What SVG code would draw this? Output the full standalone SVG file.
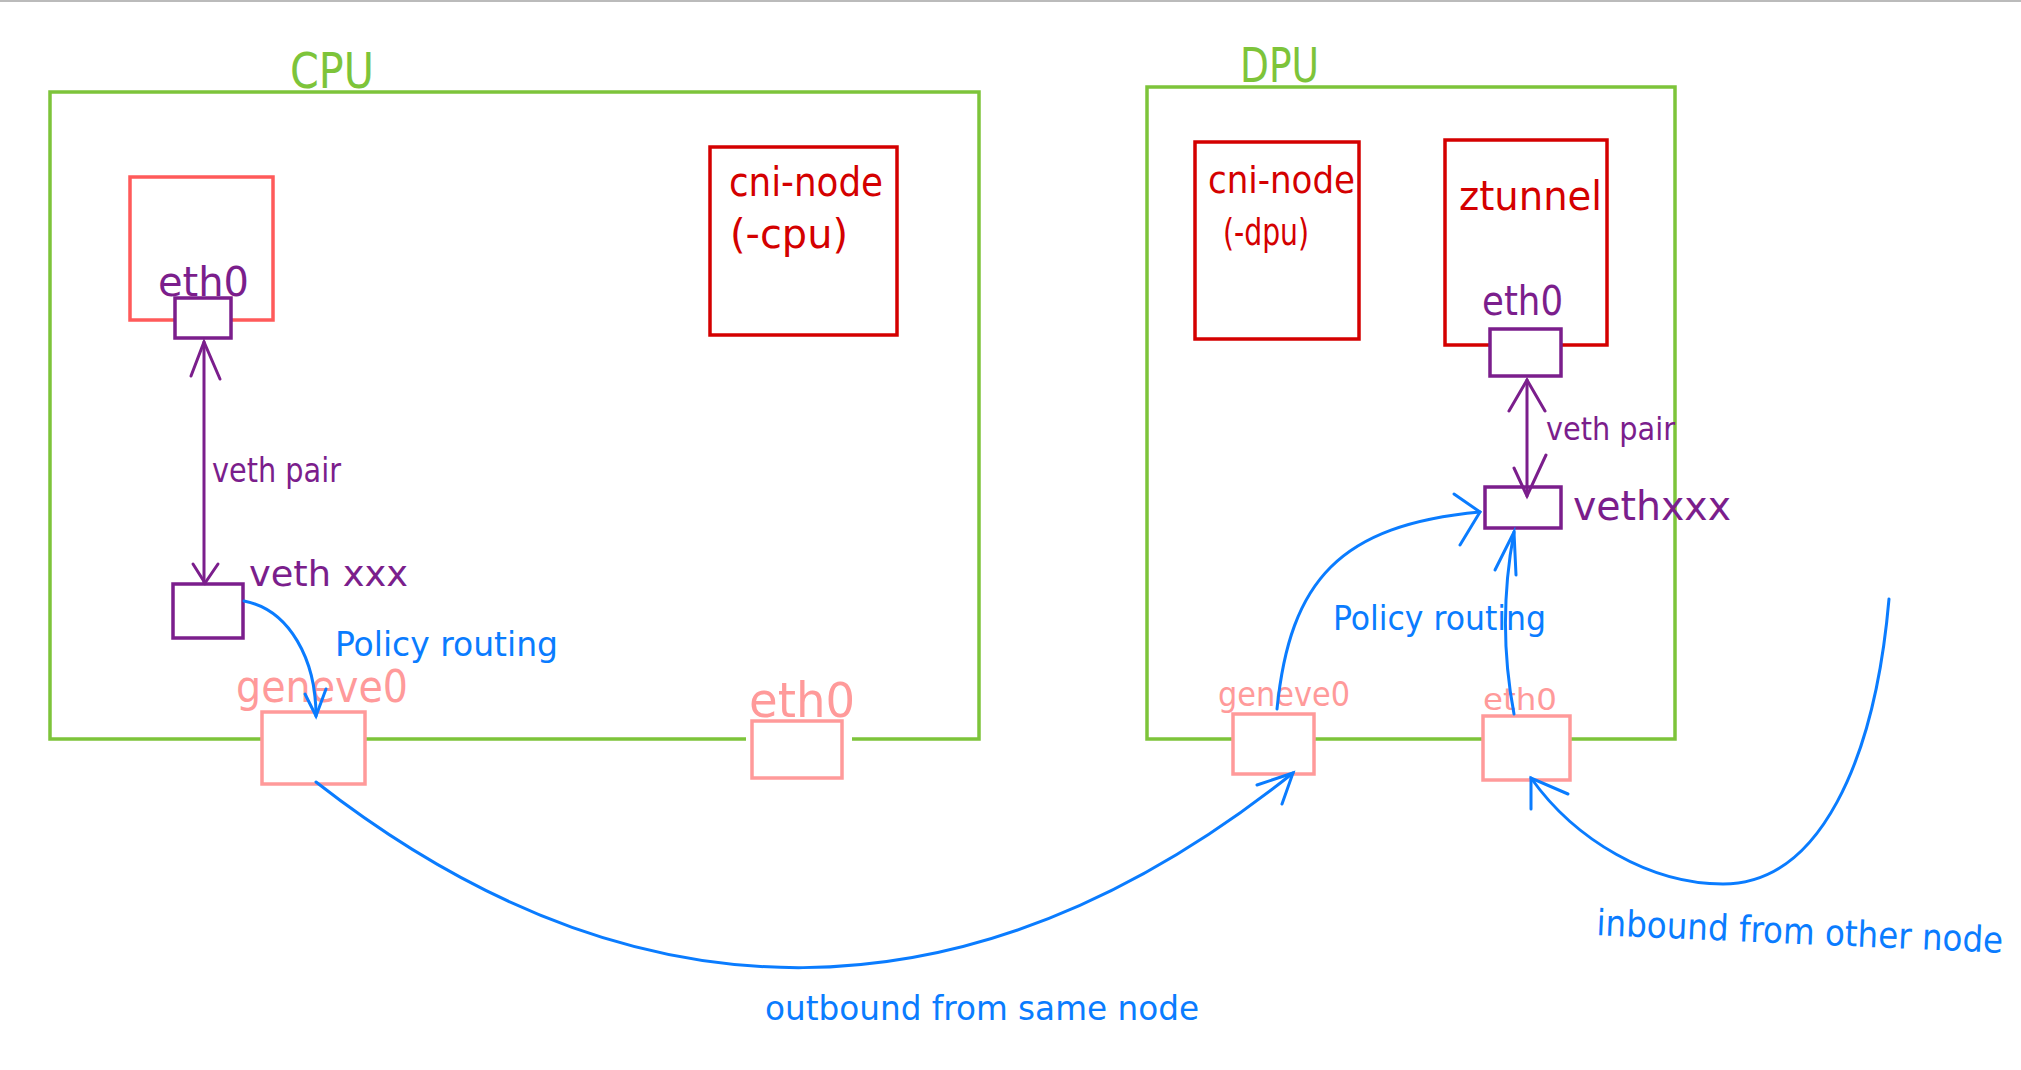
<svg xmlns="http://www.w3.org/2000/svg" width="2021" height="1070" viewBox="0 0 2021 1070">
<defs>
<style>
text{font-family:"DejaVu Sans Condensed","Liberation Sans",sans-serif;}
.green{fill:none;stroke:#7dc43a;stroke-width:3.5}
.dred{fill:#fff;stroke:#d40000;stroke-width:3.5}
.lred{fill:#fff;stroke:#ff5a5a;stroke-width:3.5}
.purp{fill:#fff;stroke:#7b1e8c;stroke-width:3.5}
.pink{fill:#fff;stroke:#ff9a9a;stroke-width:3.5}
.tg{fill:#7dc43a}
.tr{fill:#d40000}
.tp{fill:#7b1e8c}
.tk{fill:#ff9a9a}
.tb{fill:#0a7cff}
.pl{fill:none;stroke:#7b1e8c;stroke-width:3;stroke-linecap:round}
.bl{fill:none;stroke:#0a7cff;stroke-width:3;stroke-linecap:round}
</style>
</defs>
<rect x="0" y="0" width="2021" height="1070" fill="#fff"/>
<line x1="0" y1="1" x2="2021" y2="1" stroke="#bbb" stroke-width="2"/>

<g id="cpu">
<rect class="green" x="50" y="92" width="929" height="647"/>
<text class="tg" x="290" y="88" font-size="50" textLength="84" lengthAdjust="spacingAndGlyphs">CPU</text>
</g>
<g id="dpu">
<rect class="green" x="1147" y="87" width="528" height="652"/>
<text class="tg" x="1240" y="82" font-size="48" textLength="79" lengthAdjust="spacingAndGlyphs">DPU</text>
</g>

<g id="cpu-pod">
<rect class="lred" x="130" y="177" width="143" height="143"/>
<text class="tp" x="158" y="296" font-size="40" textLength="91" lengthAdjust="spacingAndGlyphs">eth0</text>
</g>
<g id="cpu-pod-eth0">
<rect class="purp" x="175" y="298" width="56" height="40"/>
</g>
<g id="cpu-cni-node">
<rect class="dred" x="710" y="147" width="187" height="188"/>
<text class="tr" x="729" y="196" font-size="40" textLength="154" lengthAdjust="spacingAndGlyphs">cni-node</text>
<text class="tr" x="730" y="248" font-size="40" textLength="118" lengthAdjust="spacingAndGlyphs">(-cpu)</text>
</g>
<g id="cpu-vethxxx">
<rect class="purp" x="173" y="584" width="70" height="54"/>
<text class="tp" x="249" y="586" font-size="36" textLength="159" lengthAdjust="spacingAndGlyphs">veth xxx</text>
</g>
<g id="cpu-geneve0">
<rect class="pink" x="262" y="712" width="103" height="72"/>
<text class="tk" x="236" y="702" font-size="44" textLength="172" lengthAdjust="spacingAndGlyphs">geneve0</text>
</g>
<g id="cpu-eth0">
<rect x="746" y="735" width="106" height="8" fill="#fff"/>
<rect class="pink" x="752" y="721" width="90" height="57"/>
<text class="tk" x="749" y="717" font-size="48" textLength="106" lengthAdjust="spacingAndGlyphs">eth0</text>
</g>

<g id="dpu-cni-node">
<rect class="dred" x="1195" y="142" width="164" height="197"/>
<text class="tr" x="1208" y="193" font-size="38" textLength="147" lengthAdjust="spacingAndGlyphs">cni-node</text>
<text class="tr" x="1223" y="245" font-size="38" textLength="86" lengthAdjust="spacingAndGlyphs">(-dpu)</text>
</g>
<g id="ztunnel">
<rect class="dred" x="1445" y="140" width="162" height="205"/>
<text class="tr" x="1459" y="210" font-size="40" textLength="143" lengthAdjust="spacingAndGlyphs">ztunnel</text>
<text class="tp" x="1482" y="315" font-size="40" textLength="81" lengthAdjust="spacingAndGlyphs">eth0</text>
</g>
<g id="ztunnel-eth0">
<rect class="purp" x="1490" y="329" width="71" height="47"/>
</g>
<g id="dpu-vethxxx">
<rect class="purp" x="1485" y="487" width="76" height="41"/>
<text class="tp" x="1573" y="520" font-size="40" textLength="158" lengthAdjust="spacingAndGlyphs">vethxxx</text>
</g>
<g id="dpu-geneve0">
<rect class="pink" x="1233" y="714" width="81" height="60"/>
<text class="tk" x="1218" y="706" font-size="34" textLength="132" lengthAdjust="spacingAndGlyphs">geneve0</text>
</g>
<g id="dpu-eth0">
<rect class="pink" x="1483" y="716" width="87" height="64"/>
<text class="tk" x="1483" y="710" font-size="30" textLength="74" lengthAdjust="spacingAndGlyphs">eth0</text>
</g>

<g id="connectors">
<line class="pl" x1="204" y1="342" x2="204" y2="583"/>
<polyline class="pl" points="191,376 204,342 220,379"/>
<polyline class="pl" points="193,564 205,583 218,564"/>
<text class="tp" x="212" y="482" font-size="34" textLength="129" lengthAdjust="spacingAndGlyphs">veth pair</text>

<line class="pl" x1="1527" y1="380" x2="1527" y2="496"/>
<polyline class="pl" points="1509,411 1527,380 1545,411"/>
<polyline class="pl" points="1514,468 1527,496 1546,455"/>
<text class="tp" x="1546" y="440" font-size="32" textLength="129" lengthAdjust="spacingAndGlyphs">veth pair</text>

<path class="bl" d="M244,601 C290,610 316,660 316,716"/>
<polyline class="bl" points="305,694 316,716 326,689"/>
<text class="tb" x="335" y="656" font-size="34" textLength="223" lengthAdjust="spacingAndGlyphs">Policy routing</text>

<path class="bl" d="M316,782 C635,1031 970,1031 1293,773"/>
<polyline class="bl" points="1257,785 1293,773 1282,804"/>
<text class="tb" x="765" y="1020" font-size="34" textLength="434" lengthAdjust="spacingAndGlyphs">outbound from same node</text>

<path class="bl" d="M1277,709 C1290,580 1340,525 1480,512"/>
<polyline class="bl" points="1454,494 1480,512 1460,545"/>
<path class="bl" d="M1514,714 C1500,640 1505,580 1514,532"/>
<polyline class="bl" points="1495,570 1514,532 1516,575"/>
<text class="tb" x="1333" y="630" font-size="34" textLength="213" lengthAdjust="spacingAndGlyphs">Policy routing</text>

<path class="bl" d="M1889,599 C1875,760 1820,884 1723,884 C1650,884 1575,840 1531,778"/>
<polyline class="bl" points="1568,794 1531,778 1531,809"/>
<text class="tb" x="1596" y="935" font-size="36" textLength="407" lengthAdjust="spacingAndGlyphs" transform="rotate(2.5 1596 935)">inbound from other node</text>
</g>
</svg>
